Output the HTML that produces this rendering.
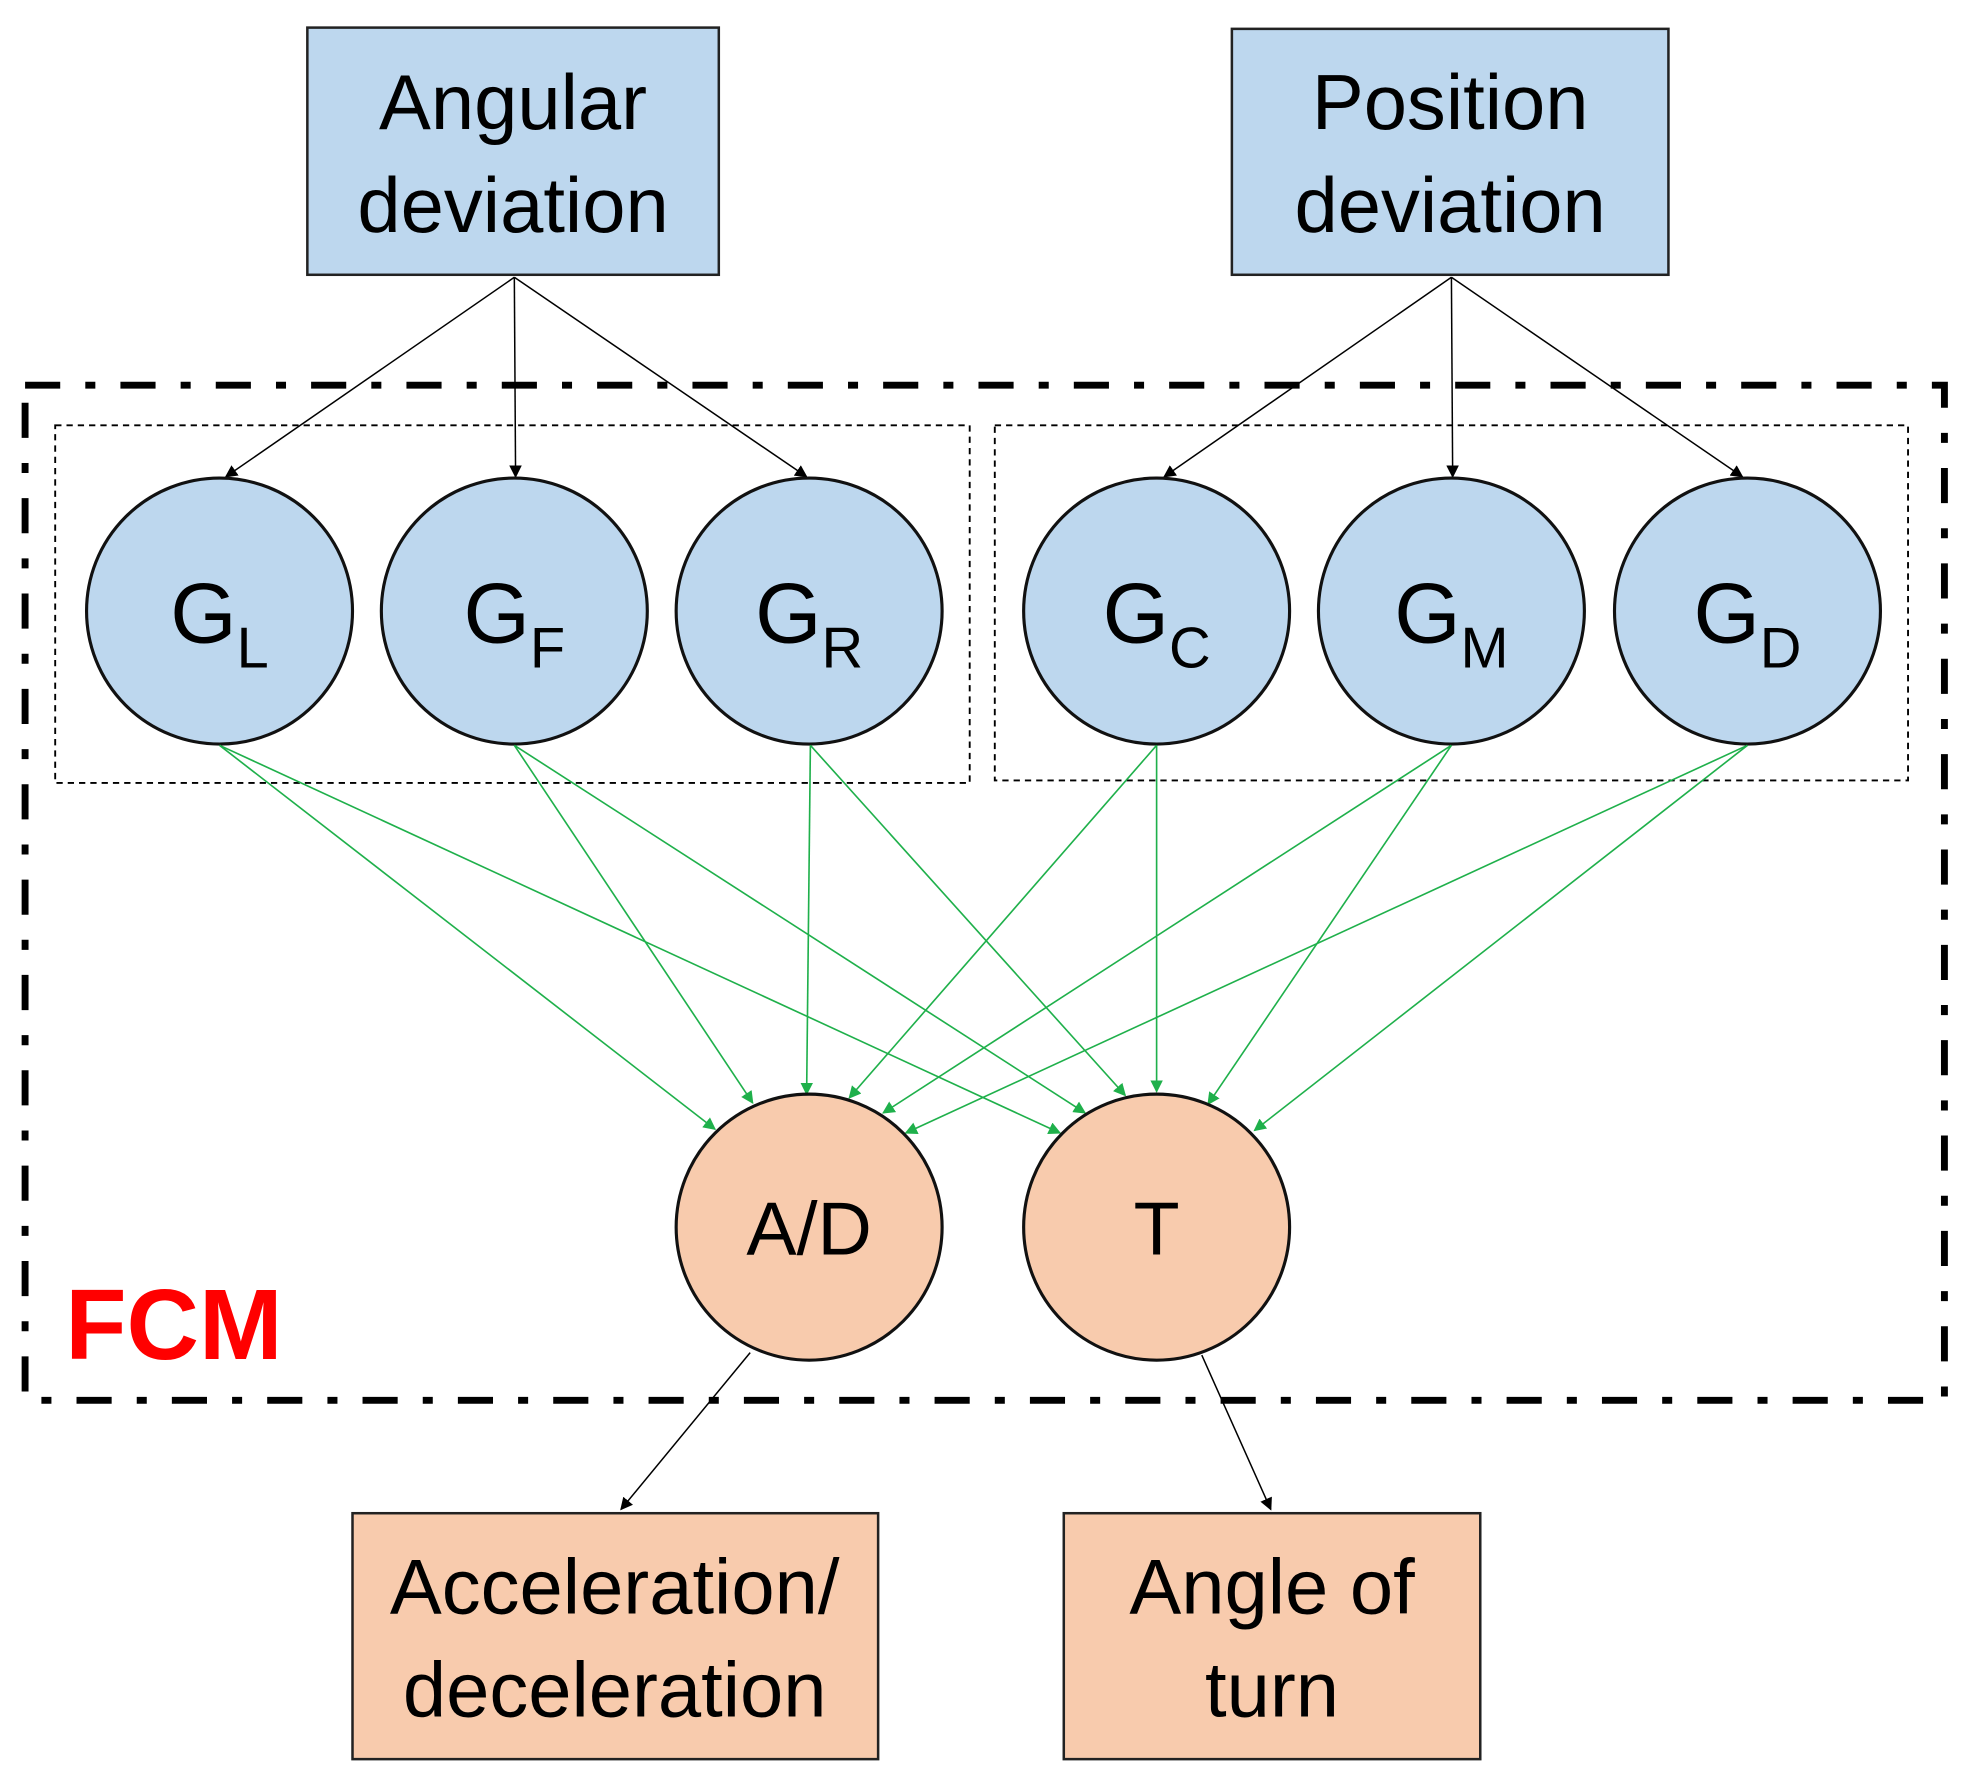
<!DOCTYPE html>
<html><head><meta charset="utf-8"><style>
html,body{margin:0;padding:0;background:#fff;}
svg{display:block;}
text{font-family:"Liberation Sans",sans-serif;}
</style></head><body>
<svg width="1967" height="1788" viewBox="0 0 1568 1425" preserveAspectRatio="none" xmlns="http://www.w3.org/2000/svg">
<defs>
<marker id="ab" markerWidth="10" markerHeight="10" refX="9" refY="5" orient="auto" markerUnits="userSpaceOnUse"><path d="M0,0 L10,5 L0,10 z" fill="#000"/></marker>
<marker id="ag" markerWidth="10" markerHeight="10" refX="9" refY="5" orient="auto" markerUnits="userSpaceOnUse"><path d="M0,0 L10,5 L0,10 z" fill="#1fb04b"/></marker>
</defs>
<rect x="0" y="0" width="1568" height="1425" fill="#fff"/>
<rect x="20" y="307" width="1530" height="809" fill="none" stroke="#000" stroke-width="5.5" stroke-dasharray="28,20,8,20"/>
<rect x="44" y="339" width="729" height="285" fill="none" stroke="#000" stroke-width="1.5" stroke-dasharray="5,4"/>
<rect x="793" y="339" width="728" height="283" fill="none" stroke="#000" stroke-width="1.5" stroke-dasharray="5,4"/>
<rect x="245" y="22" width="328" height="197" fill="#bdd7ee" stroke="#222" stroke-width="2"/>
<rect x="982" y="23" width="348" height="196" fill="#bdd7ee" stroke="#222" stroke-width="2"/>
<text x="409" y="103" font-size="62" text-anchor="middle">Angular</text>
<text x="409" y="185" font-size="62" text-anchor="middle">deviation</text>
<text x="1156" y="103" font-size="62" text-anchor="middle">Position</text>
<text x="1156" y="185" font-size="62" text-anchor="middle">deviation</text>
<g stroke="#000" stroke-width="1.2" marker-end="url(#ab)">
<line x1="410" y1="221" x2="180" y2="380"/>
<line x1="410" y1="221" x2="411" y2="380"/>
<line x1="410" y1="221" x2="643" y2="380"/>
<line x1="1157" y1="221" x2="928" y2="380"/>
<line x1="1157" y1="221" x2="1158" y2="380"/>
<line x1="1157" y1="221" x2="1389" y2="380"/>
<line x1="598" y1="1078" x2="495" y2="1203"/>
<line x1="958" y1="1080" x2="1013" y2="1203"/>
</g>
<g fill="#bdd7ee" stroke="#111" stroke-width="2.5">
<circle cx="175" cy="487" r="106"/><circle cx="410" cy="487" r="106"/><circle cx="645" cy="487" r="106"/>
<circle cx="922" cy="487" r="106"/><circle cx="1157" cy="487" r="106"/><circle cx="1393" cy="487" r="106"/>
</g>
<g font-size="68" text-anchor="middle">
<text x="175" y="512">G<tspan font-size="46" dy="20">L</tspan></text>
<text x="410" y="512">G<tspan font-size="46" dy="20">F</tspan></text>
<text x="645" y="512">G<tspan font-size="46" dy="20">R</tspan></text>
<text x="922" y="512">G<tspan font-size="46" dy="20">C</tspan></text>
<text x="1157" y="512">G<tspan font-size="46" dy="20">M</tspan></text>
<text x="1393" y="512">G<tspan font-size="46" dy="20">D</tspan></text>
</g>
<g stroke="#1fb04b" stroke-width="1.3" marker-end="url(#ag)">
<line x1="175" y1="594" x2="570" y2="900"/><line x1="175" y1="594" x2="845" y2="903"/>
<line x1="410" y1="594" x2="600" y2="879"/><line x1="410" y1="594" x2="865" y2="887"/>
<line x1="646" y1="594" x2="643" y2="872"/><line x1="646" y1="594" x2="897" y2="873"/>
<line x1="922" y1="594" x2="677" y2="875"/><line x1="922" y1="594" x2="922" y2="870"/>
<line x1="1157" y1="594" x2="704" y2="887"/><line x1="1157" y1="594" x2="963" y2="880"/>
<line x1="1393" y1="594" x2="722" y2="903"/><line x1="1393" y1="594" x2="1000" y2="901"/>
</g>
<g fill="#f8cbad" stroke="#111" stroke-width="2.5">
<circle cx="645" cy="978" r="106"/><circle cx="922" cy="978" r="106"/>
</g>
<text x="645" y="1000" font-size="60" text-anchor="middle">A/D</text>
<text x="922" y="1000" font-size="60" text-anchor="middle">T</text>
<rect x="281" y="1206" width="419" height="196" fill="#f8cbad" stroke="#222" stroke-width="2"/>
<rect x="848" y="1206" width="332" height="196" fill="#f8cbad" stroke="#222" stroke-width="2"/>
<text x="490" y="1286" font-size="62" text-anchor="middle">Acceleration/</text>
<text x="490" y="1368" font-size="62" text-anchor="middle">deceleration</text>
<text x="1014" y="1286" font-size="62" text-anchor="middle">Angle of</text>
<text x="1014" y="1368" font-size="62" text-anchor="middle">turn</text>
<text x="52" y="1083" font-size="80" font-weight="bold" fill="#ff0000">FCM</text>
</svg>
</body></html>
